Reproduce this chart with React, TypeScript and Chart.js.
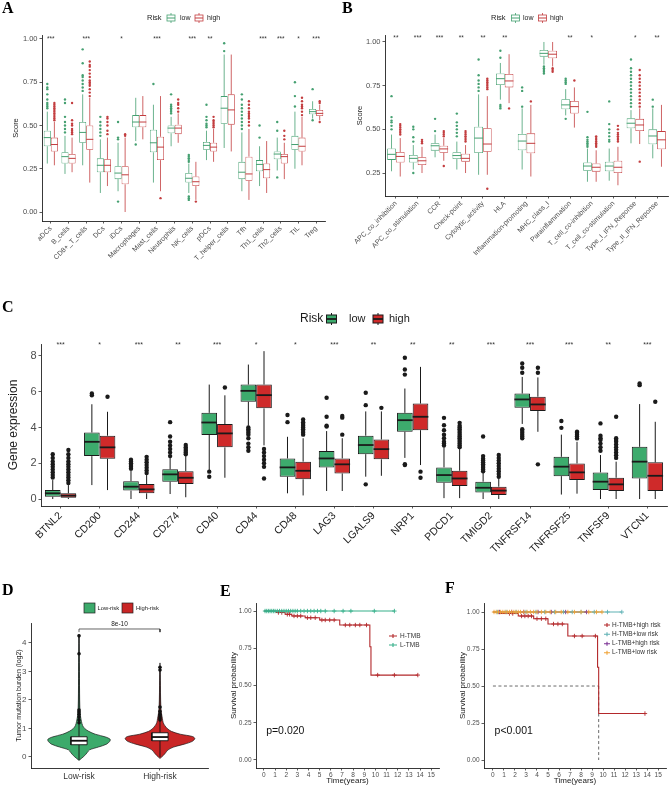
import React, { useEffect, useRef } from 'react';
import { Chart, registerables } from 'chart.js';

Chart.register(...registerables);
const FONT = "'Liberation Sans', Arial, Helvetica, sans-serif";
Chart.defaults.font.family = FONT;
Chart.defaults.color = '#4d4d4d';

// ---------------- Panel A data ----------------
const A_categories = ['aDCs', 'B_cells', 'CD8+_T_cells', 'DCs', 'iDCs', 'Macrophages', 'Mast_cells', 'Neutrophils', 'NK_cells', 'pDCs', 'T_helper_cells', 'Tfh', 'Th1_cells', 'Th2_cells', 'TIL', 'Treg'];
const A_stars = ['***', '', '***', '', '*', '', '***', '', '***', '**', '', '', '***', '***', '*', '***'];
// [whiskerMin, q1, median, q3, whiskerMax]
const A_lowStats = [
  [0.28, 0.38, 0.43, 0.47, 0.58], [0.22, 0.28, 0.32, 0.345, 0.44], [0.27, 0.40, 0.46, 0.52, 0.68], [0.11, 0.23, 0.27, 0.31, 0.42],
  [0.12, 0.19, 0.225, 0.265, 0.40], [0.41, 0.49, 0.52, 0.56, 0.66], [0.17, 0.345, 0.40, 0.475, 0.62], [0.38, 0.455, 0.485, 0.50, 0.55],
  [0.11, 0.17, 0.195, 0.225, 0.28], [0.30, 0.36, 0.385, 0.405, 0.47], [0.37, 0.51, 0.60, 0.67, 0.91], [0.12, 0.19, 0.23, 0.29, 0.46],
  [0.15, 0.235, 0.275, 0.30, 0.38], [0.24, 0.305, 0.335, 0.35, 0.43], [0.25, 0.36, 0.39, 0.44, 0.58], [0.54, 0.565, 0.58, 0.595, 0.64],
];
const A_highStats = [
  [0.27, 0.35, 0.39, 0.43, 0.52], [0.23, 0.28, 0.31, 0.335, 0.43], [0.17, 0.36, 0.42, 0.50, 0.66], [0.15, 0.23, 0.27, 0.305, 0.43],
  [0.0, 0.16, 0.215, 0.265, 0.43], [0.42, 0.49, 0.52, 0.56, 0.67], [0.12, 0.30, 0.375, 0.435, 0.67], [0.40, 0.45, 0.485, 0.505, 0.57],
  [0.07, 0.15, 0.175, 0.205, 0.29], [0.29, 0.35, 0.375, 0.40, 0.48], [0.35, 0.505, 0.59, 0.68, 0.91], [0.07, 0.18, 0.22, 0.32, 0.48],
  [0.11, 0.195, 0.245, 0.28, 0.41], [0.19, 0.28, 0.32, 0.335, 0.40], [0.27, 0.35, 0.38, 0.43, 0.55], [0.53, 0.555, 0.57, 0.59, 0.62],
];
const A_lowOutliers = [
  [0.60, 0.61, 0.62, 0.63, 0.65, 0.68, 0.71, 0.72, 0.74], [0.46, 0.48, 0.50, 0.52, 0.55, 0.63, 0.65], [0.70, 0.72, 0.74, 0.76, 0.78, 0.79, 0.86, 0.94],
  [0.44, 0.46, 0.48, 0.50, 0.52, 0.55], [0.42, 0.43, 0.52, 0.06], [0.39], [0.74], [0.57, 0.58, 0.59, 0.60, 0.61, 0.62, 0.68],
  [0.29, 0.30, 0.31, 0.32, 0.33, 0.07, 0.08, 0.09], [0.49, 0.50, 0.51, 0.53, 0.55, 0.62], [0.93, 0.975],
  [0.48, 0.50, 0.52, 0.54, 0.56, 0.58, 0.60, 0.62, 0.65, 0.68], [0.43, 0.50], [0.47, 0.52, 0.20], [0.61, 0.67, 0.75], [0.71, 0.53],
];
const A_highOutliers = [
  [0.53, 0.54, 0.55, 0.56, 0.57, 0.58, 0.59, 0.60, 0.61, 0.62, 0.63], [0.45, 0.46, 0.47, 0.48, 0.50, 0.51, 0.53, 0.63],
  [0.67, 0.69, 0.71, 0.73, 0.74, 0.75, 0.76, 0.78, 0.80, 0.82, 0.84, 0.85, 0.87], [0.45, 0.47, 0.50, 0.52, 0.54, 0.55], [0.44, 0.45], [],
  [0.08], [0.58, 0.60, 0.62, 0.63, 0.65], [0.06], [0.49, 0.50, 0.51, 0.52, 0.53, 0.55], [], [0.50, 0.52, 0.54, 0.55, 0.56, 0.57, 0.58, 0.60, 0.62, 0.64],
  [], [0.42, 0.44, 0.47], [0.56, 0.58, 0.60, 0.61, 0.62, 0.64, 0.66], [0.63, 0.64, 0.52],
];
const A_yTicks = [0, 0.25, 0.5, 0.75, 1.0];

// ---------------- Panel B data ----------------
const B_categories = ['APC_co_inhibition', 'APC_co_stimulation', 'CCR', 'Check-point', 'Cytolytic_activity', 'HLA', 'Inflammation-promoting', 'MHC_class_I', 'Parainflammation', 'T_cell_co-inhibition', 'T_cell_co-stimulation', 'Type_I_IFN_Reponse', 'Type_II_IFN_Reponse'];
const B_stars = ['**', '***', '***', '**', '**', '**', '', '', '**', '*', '', '*', '**'];
const B_lowStats = [
  [0.26, 0.325, 0.357, 0.39, 0.47], [0.27, 0.31, 0.334, 0.353, 0.41], [0.34, 0.378, 0.406, 0.42, 0.47], [0.27, 0.33, 0.35, 0.369, 0.43],
  [0.24, 0.365, 0.45, 0.515, 0.70], [0.67, 0.754, 0.79, 0.82, 0.88], [0.27, 0.38, 0.433, 0.474, 0.62], [0.87, 0.916, 0.935, 0.954, 1.0],
  [0.58, 0.615, 0.64, 0.672, 0.73], [0.20, 0.263, 0.29, 0.31, 0.39], [0.206, 0.26, 0.29, 0.315, 0.39], [0.42, 0.506, 0.535, 0.563, 0.61],
  [0.334, 0.414, 0.462, 0.50, 0.62],
];
const B_highStats = [
  [0.23, 0.31, 0.345, 0.37, 0.45], [0.25, 0.296, 0.32, 0.34, 0.40], [0.32, 0.366, 0.388, 0.406, 0.45], [0.25, 0.315, 0.334, 0.36, 0.41],
  [0.24, 0.372, 0.416, 0.506, 0.69], [0.65, 0.74, 0.777, 0.817, 0.93], [0.23, 0.363, 0.42, 0.477, 0.64], [0.86, 0.907, 0.93, 0.95, 1.0],
  [0.51, 0.59, 0.63, 0.662, 0.74], [0.20, 0.258, 0.283, 0.305, 0.38], [0.18, 0.25, 0.283, 0.32, 0.40], [0.416, 0.49, 0.525, 0.56, 0.62],
  [0.286, 0.386, 0.44, 0.49, 0.64],
];
const B_lowOutliers = [
  [0.50, 0.52, 0.54, 0.55, 0.57, 0.69], [0.43, 0.455, 0.50, 0.515, 0.25], [0.49, 0.56], [0.46, 0.48, 0.50, 0.52, 0.54, 0.59],
  [0.72, 0.74, 0.76, 0.78, 0.81, 0.90], [0.91, 0.95, 0.62, 0.63, 0.64], [0.63, 0.72, 0.74], [0.82, 0.83, 0.84, 0.85, 0.86],
  [0.76, 0.77, 0.78, 0.79, 0.56], [0.40, 0.41, 0.42, 0.43, 0.44, 0.455, 0.60], [0.43, 0.44, 0.46, 0.48, 0.50, 0.53, 0.66],
  [0.63, 0.65, 0.67, 0.69, 0.71, 0.73, 0.75, 0.77, 0.79, 0.81, 0.83, 0.85, 0.90], [0.63, 0.67],
];
const B_highOutliers = [
  [0.47, 0.48, 0.49, 0.50, 0.51, 0.52, 0.53], [0.42, 0.43, 0.44], [0.46, 0.47, 0.48, 0.49, 0.29], [0.43, 0.44, 0.45, 0.46, 0.47, 0.48, 0.49],
  [0.73, 0.74, 0.75, 0.76, 0.77, 0.78, 0.79, 0.16], [0.62], [0.66], [0.83, 0.84, 0.85], [0.78],
  [0.40, 0.41, 0.42, 0.43, 0.44, 0.45, 0.46], [0.43, 0.44, 0.45, 0.46, 0.47, 0.48, 0.50, 0.52],
  [0.63, 0.65, 0.67, 0.69, 0.71, 0.73, 0.75, 0.77, 0.79, 0.81, 0.84, 0.315], [],
];
const B_yTicks = [0.25, 0.5, 0.75, 1.0];

// ---------------- Panel C data ----------------
const C_categories = ['BTNL2', 'CD200', 'CD244', 'CD274', 'CD40', 'CD44', 'CD48', 'LAG3', 'LGALS9', 'NRP1', 'PDCD1', 'TMIGD2', 'TNFRSF14', 'TNFRSF25', 'TNFSF9', 'VTCN1'];
const C_stars = ['***', '*', '***', '**', '***', '*', '*', '***', '**', '**', '**', '***', '***', '***', '**', '***'];
const C_lowStats = [
  [0, 0.13, 0.32, 0.50, 1.06], [0.78, 2.40, 3.2, 3.72, 5.3], [0, 0.47, 0.69, 1.0, 1.62], [0.28, 0.97, 1.38, 1.66, 2.3],
  [1.62, 3.58, 4.28, 4.82, 6.4], [4.1, 5.44, 6.05, 6.4, 7.52], [0.32, 1.25, 1.77, 2.27, 3.48], [0.45, 1.77, 2.27, 2.68, 3.8],
  [1.25, 2.51, 3.02, 3.54, 4.9], [2.3, 3.76, 4.41, 4.82, 6.18], [0.05, 0.91, 1.34, 1.77, 2.92], [0, 0.37, 0.63, 0.97, 1.47],
  [4.2, 5.10, 5.57, 5.9, 6.83], [0.25, 1.28, 1.81, 2.36, 3.6], [0, 0.50, 0.97, 1.49, 2.46], [0, 1.15, 2.09, 2.92, 5.31],
];
const C_highStats = [
  [0, 0.07, 0.19, 0.32, 0.78], [0.5, 2.25, 2.89, 3.54, 4.88], [0, 0.32, 0.54, 0.84, 1.34], [0.1, 0.84, 1.19, 1.56, 2.4],
  [1.19, 2.89, 3.67, 4.19, 5.8], [3.0, 5.07, 5.81, 6.4, 8.27], [0.2, 1.1, 1.58, 2.09, 3.4], [0.45, 1.43, 1.94, 2.27, 3.4],
  [1.3, 2.22, 2.79, 3.33, 4.9], [1.9, 3.85, 4.6, 5.34, 7.39], [0.05, 0.73, 1.15, 1.58, 2.83], [0, 0.22, 0.47, 0.69, 1.15],
  [3.76, 4.92, 5.29, 5.72, 6.8], [0.3, 1.06, 1.49, 1.99, 3.2], [0, 0.45, 0.82, 1.19, 2.09], [0, 0.45, 1.30, 2.05, 4.32],
];
const C_lowOutliers = [
  [1.2, 1.35, 1.5, 1.65, 1.8, 1.95, 2.1, 2.3, 2.5], [5.8, 5.9], [1.7, 1.8, 1.9, 2.0, 2.1, 2.2], [2.4, 2.6, 2.8, 3.0, 3.2, 3.5, 4.3],
  [1.53, 1.25], [4.0, 3.9, 3.8, 3.7, 3.6, 3.4, 3.1, 2.9, 2.7], [4.3, 4.7], [4.05, 4.1, 4.6, 5.66],
  [5.25, 5.94, 0.82], [6.96, 7.24, 7.9, 1.95, 1.9], [3.0, 3.1, 3.2, 3.4, 3.6, 3.85, 4.13, 4.54],
  [1.55, 1.65, 1.75, 1.85, 1.95, 2.05, 2.15, 2.25, 2.4, 3.5], [7.06, 7.34, 7.58, 3.9, 3.8, 3.7, 3.6, 3.5, 3.4], [3.98, 4.36],
  [2.7, 2.9, 3.1, 3.3, 3.4, 3.54, 4.23], [6.37, 6.46],
];
const C_highOutliers = [
  [0.9, 1.05, 1.2, 1.35, 1.5, 1.65, 1.8, 1.95, 2.1, 2.3, 2.5, 2.74], [5.72], [1.45, 1.6, 1.75, 1.9, 2.05, 2.2, 2.36], [2.5, 2.6, 2.7, 2.8, 2.9, 3.02],
  [6.24], [2.8, 2.6, 2.4, 2.2, 2.0, 1.8, 1.15], [3.6, 3.7, 3.8, 3.9, 4.0, 4.1, 4.2, 4.3, 4.45], [3.6, 4.55, 4.65],
  [5.1], [1.53, 1.19], [2.9, 3.0, 3.1, 3.2, 3.3, 3.4, 3.5, 3.6, 3.7, 3.8, 3.9, 4.0, 4.1, 4.26],
  [1.25, 1.4, 1.55, 1.7, 1.85, 2.0, 2.15, 2.3, 2.46], [7.06, 7.34, 1.94], [3.39, 3.5, 3.6, 3.7, 3.76],
  [2.3, 2.45, 2.6, 2.75, 2.9, 3.05, 3.2, 3.3, 3.4, 4.6], [5.44],
];
const C_yTicks = [0, 2, 4, 6, 8];
const RISK_LABELS = ['low', 'high'];

// ---------------- Panel D data ----------------
const D_groups = ['Low-risk', 'High-risk'];
const D_lowDensY = [-0.12, -0.05, 0.05, 0.15, 0.25, 0.35, 0.45, 0.55, 0.62, 0.7, 0.8, 0.9, 1.0, 1.1, 1.25, 1.5, 2.0, 3.0, 4.3];
const D_lowDensW = [0, 0.03, 0.07, 0.1, 0.13, 0.24, 0.34, 0.38, 0.385, 0.33, 0.2, 0.12, 0.07, 0.045, 0.03, 0.015, 0.008, 0.005, 0];
const D_highDensY = [-0.05, 0.05, 0.15, 0.25, 0.35, 0.45, 0.55, 0.65, 0.72, 0.8, 0.9, 1.0, 1.1, 1.2, 1.35, 1.6, 2.0, 2.5, 3.3];
const D_highDensW = [0, 0.04, 0.07, 0.1, 0.17, 0.3, 0.4, 0.43, 0.4, 0.25, 0.14, 0.09, 0.06, 0.04, 0.03, 0.015, 0.008, 0.005, 0];
const D_lowStats = [-0.1, 0.43, 0.57, 0.71, 4.25];
const D_highStats = [0.0, 0.57, 0.70, 0.85, 3.15];
const D_lowOutliers = [1.2, 1.3, 1.4, 1.5, 1.58, 1.65, 3.62, 4.25];
const D_highOutliers = [1.3, 1.35, 1.4, 1.45, 1.5, 1.6, 1.75, 3.05, 3.15];
const D_pLabel = '8e-10';
const D_bracketY = 4.49;
const D_bracketFoot = 4.38;
const D_yTicks = [0, 1, 2, 3, 4];

// ---------------- Panel E data ----------------
const E_highTime = [0, 1.1, 1.9, 2.5, 3.7, 5.0, 6.8, 9.5, 9.6, 13.8];
const E_highSurv = [1, 0.99, 0.978, 0.967, 0.955, 0.94, 0.906, 0.76, 0.57, 0.57];
const E_highCensor = [1.3, 1.6, 2.1, 2.3, 2.7, 3.0, 3.3, 3.9, 4.2, 4.6, 5.2, 5.5, 5.9, 6.3, 7.3, 7.7, 8.2, 8.6, 9.2, 10.2, 11.7, 13.8];
const E_lowTime = [0, 11.7];
const E_lowSurv = [1, 1];
const E_lowCensor = [0.1, 0.25, 0.4, 0.55, 0.7, 0.85, 1.0, 1.2, 1.4, 1.6, 1.8, 2.0, 2.2, 2.4, 2.6, 2.8, 3.0, 3.3, 3.6, 3.9, 4.2, 4.5, 4.8, 5.1, 5.5, 6.3, 7.1, 7.8, 9.9, 11.7];
const E_labels = ['H-TMB', 'L-TMB'];
const E_pText = 'p=0.020';
const KM_xTicks = [0, 1, 2, 3, 4, 5, 6, 7, 8, 9, 10, 11, 12, 13, 14, 15];
const KM_yTicks = [0, 0.25, 0.5, 0.75, 1.0];

// ---------------- Panel F data ----------------
const F_hhTime = [0, 0.5, 2.3, 3.7, 5.0, 6.8, 9.5, 9.6, 13.8];
const F_hhSurv = [1, 0.99, 0.973, 0.955, 0.919, 0.838, 0.627, 0.314, 0.314];
const F_hhCensor = [1.5, 1.8, 2.6, 2.9, 3.2, 3.5, 4.0, 4.4, 4.8, 5.5, 5.9, 6.3, 7.4, 8.1, 9.3, 13.8];
const F_hlTime = [0, 11.7];
const F_hlSurv = [1, 1];
const F_hlCensor = [0.4, 1.2, 2.1, 3.0, 3.9, 4.7, 5.6, 6.4, 7.2, 8.0, 9.2, 10.4, 11.7];
const F_lhTime = [0, 8.5];
const F_lhSurv = [1, 1];
const F_lhCensor = [0.6, 1.7, 2.8, 4.1, 5.3, 6.6, 8.5];
const F_llTime = [0, 9.9];
const F_llSurv = [1, 1];
const F_llCensor = [0.1, 0.3, 0.5, 0.7, 0.9, 1.1, 1.3, 1.5, 1.7, 1.9, 2.1, 2.3, 2.5, 2.8, 3.1, 3.4, 3.7, 4.0, 4.4, 4.8, 5.2, 5.7, 6.2, 6.8, 7.4, 8.0, 8.7, 9.4, 9.9];
const F_labels = ['H-TMB+high risk', 'H-TMB+low risk', 'L-TMB+high risk', 'L-TMB+low risk'];
const F_median = 9.6;
const F_pText = 'p<0.001';

// ---------------- helpers ----------------
const fitSize = (size: number) => (scale: any) => {
  if (scale.isHorizontal()) scale.height = size;
  else scale.width = size;
};
const fixTicks = (vals: number[]) => (scale: any) => {
  scale.ticks = vals.map((v) => ({ value: v }));
};
const survAt = (times: number[], surv: number[], t: number) => {
  let s = surv[0];
  for (let k = 0; k < times.length; k++) if (times[k] <= t) s = surv[k];
  return s;
};

function yLinear(o: any) {
  return {
    type: 'linear', position: 'left', min: o.min, max: o.max,
    afterBuildTicks: fixTicks(o.ticks), afterFit: fitSize(o.width),
    ticks: { font: { size: o.font }, color: '#4d4d4d', padding: 2, callback: (v: any) => Number(v).toFixed(o.dec) },
    grid: { drawOnChartArea: false, drawTicks: true, tickLength: 2.5, color: '#333', lineWidth: 0.8 },
    border: { display: true, color: '#222', width: 0.9 },
    title: o.title ? { display: true, text: o.title, font: { size: o.titleFont }, color: '#1a1a1a', padding: { top: o.titlePad, bottom: 0 } } : { display: false },
  };
}

function xCategory(o: any) {
  return {
    type: 'category', afterFit: fitSize(o.height),
    ticks: { font: { size: o.font }, color: o.color, maxRotation: 45, minRotation: 45, autoSkip: false, padding: 1 },
    grid: { offset: false, drawOnChartArea: false, tickLength: 2.5, color: '#333', lineWidth: 0.8 },
    border: { display: true, color: '#222', width: 0.9 },
  };
}

function xLinear(o: any) {
  return {
    type: 'linear', min: o.min, max: o.max,
    afterBuildTicks: fixTicks(o.ticks), afterFit: fitSize(o.height),
    ticks: { font: { size: o.font }, color: o.color || '#4d4d4d', padding: 1, maxRotation: 0, autoSkip: false, callback: o.callback || ((v: any) => String(v)) },
    grid: { drawOnChartArea: false, drawTicks: true, tickLength: 2.5, color: '#333', lineWidth: 0.8 },
    border: { display: true, color: '#222', width: 0.9 },
    title: o.title ? { display: true, text: o.title, font: { size: o.titleFont }, color: '#1a1a1a', padding: { top: 0, bottom: o.titlePad } } : { display: false },
  };
}

function drawBoxKey(ctx: any, cx: number, cy: number, w: number, h: number, fill: string, stroke: string, lw: number, medW: number) {
  ctx.save();
  ctx.strokeStyle = stroke;
  ctx.lineWidth = lw;
  ctx.beginPath();
  ctx.moveTo(cx, cy - h / 2 - 2);
  ctx.lineTo(cx, cy + h / 2 + 2);
  ctx.stroke();
  ctx.fillStyle = fill;
  ctx.fillRect(cx - w / 2, cy - h / 2, w, h);
  ctx.strokeRect(cx - w / 2, cy - h / 2, w, h);
  ctx.lineWidth = medW;
  ctx.beginPath();
  ctx.moveTo(cx - w / 2, cy);
  ctx.lineTo(cx + w / 2, cy);
  ctx.stroke();
  ctx.restore();
}

function boxPlugin(p: any) {
  return {
    id: 'boxExtras',
    afterDatasetsDraw(chart: any) {
      const ctx = chart.ctx;
      const ys = chart.scales.y;
      const xs = chart.scales.x;
      chart.data.datasets.forEach((d: any, i: number) => {
        const meta = chart.getDatasetMeta(i);
        meta.data.forEach((el: any, j: number) => {
          const s = d.stats[j];
          const x = el.x;
          const w = el.width;
          ctx.save();
          ctx.strokeStyle = d.lineColor;
          ctx.lineWidth = p.lineW;
          ctx.beginPath();
          ctx.moveTo(x, ys.getPixelForValue(s[3]));
          ctx.lineTo(x, ys.getPixelForValue(s[4]));
          ctx.moveTo(x, ys.getPixelForValue(s[1]));
          ctx.lineTo(x, ys.getPixelForValue(s[0]));
          ctx.stroke();
          const my = ys.getPixelForValue(s[2]);
          ctx.lineWidth = p.medW;
          ctx.beginPath();
          ctx.moveTo(x - w / 2, my);
          ctx.lineTo(x + w / 2, my);
          ctx.stroke();
          ctx.fillStyle = d.lineColor;
          (d.outliers[j] || []).forEach((v: number) => {
            ctx.beginPath();
            ctx.arc(x, ys.getPixelForValue(v), p.outR, 0, Math.PI * 2);
            ctx.fill();
          });
          ctx.restore();
        });
      });
      ctx.save();
      ctx.fillStyle = '#333';
      ctx.font = `${p.starFont}px ${FONT}`;
      ctx.textAlign = 'center';
      ctx.textBaseline = 'middle';
      p.stars.forEach((s: string, j: number) => {
        if (s) ctx.fillText(s, xs.getPixelForValue(j), ys.getPixelForValue(p.starValue));
      });
      const L = p.legend;
      ctx.textAlign = 'left';
      ctx.fillStyle = '#1a1a1a';
      ctx.font = `${L.titleFont}px ${FONT}`;
      ctx.fillText('Risk', L.riskX, L.y);
      const cols = [p.lowColor, p.highColor];
      [L.key1X, L.key2X].forEach((kx: number, k: number) => {
        drawBoxKey(ctx, kx, L.y, L.keyW, L.keyH, p.filled ? cols[k] : '#ffffff', p.filled ? '#1a1a1a' : cols[k], p.lineW, p.medW);
      });
      ctx.fillStyle = '#1a1a1a';
      ctx.font = `${L.font}px ${FONT}`;
      ctx.fillText(RISK_LABELS[0], L.lowX, L.y);
      ctx.fillText(RISK_LABELS[1], L.highX, L.y);
      ctx.restore();
    },
  };
}

function boxConfig(p: any) {
  const ds = (stats: number[][], outs: number[][], color: string, label: string) => ({
    label,
    data: stats.map((s) => [s[1], s[3]]),
    stats, outliers: outs,
    lineColor: p.filled ? '#1a1a1a' : color,
    backgroundColor: p.filled ? color : '#ffffff',
    borderColor: p.filled ? '#1a1a1a' : color,
    borderWidth: p.lineW,
    borderSkipped: false,
    categoryPercentage: 0.8,
    barPercentage: 1,
  });
  return {
    type: 'bar',
    data: { labels: p.categories, datasets: [ds(p.lowStats, p.lowOut, p.lowColor, RISK_LABELS[0]), ds(p.highStats, p.highOut, p.highColor, RISK_LABELS[1])] },
    options: {
      responsive: false, animation: false, events: [],
      layout: { padding: { left: 0, top: p.padTop, right: p.padRight, bottom: 0 } },
      plugins: { legend: { display: false }, tooltip: { enabled: false } },
      scales: {
        x: xCategory({ height: p.xHeight, font: p.xFont, color: p.xColor }),
        y: yLinear({ min: p.yMin, max: p.yMax, ticks: p.yTicks, dec: p.dec, width: p.yWidth, font: p.tickFont, title: p.yTitle, titleFont: p.titleFont, titlePad: p.titlePad }),
      },
    },
    plugins: [boxPlugin(p)],
  };
}

const A_GREEN = '#45a071';
const A_RED = '#c33d3f';

const configA = () => boxConfig({
  categories: A_categories, lowStats: A_lowStats, highStats: A_highStats, lowOut: A_lowOutliers, highOut: A_highOutliers, stars: A_stars,
  lowColor: A_GREEN, highColor: A_RED, filled: false,
  padTop: 35, padRight: 10, yWidth: 42, xHeight: 49,
  yMin: -0.052, yMax: 1.023, yTicks: A_yTicks, dec: 2, tickFont: 7.5, xFont: 7, xColor: '#4d4d4d',
  yTitle: 'Score', titleFont: 7.5, titlePad: 11.5,
  starValue: 1.0, starFont: 6.5, lineW: 0.8, medW: 1, outR: 1.2,
  legend: { y: 18, riskX: 147, key1X: 171, lowX: 180, key2X: 199, highX: 207, font: 7, titleFont: 7.5, keyW: 8, keyH: 6 },
});

const configB = () => boxConfig({
  categories: B_categories, lowStats: B_lowStats, highStats: B_highStats, lowOut: B_lowOutliers, highOut: B_highOutliers, stars: B_stars,
  lowColor: A_GREEN, highColor: A_RED, filled: false,
  padTop: 35, padRight: 3, yWidth: 50, xHeight: 74,
  yMin: 0.1185, yMax: 1.04, yTicks: B_yTicks, dec: 2, tickFont: 7.5, xFont: 7, xColor: '#4d4d4d',
  yTitle: 'Score', titleFont: 7.5, titlePad: 20.5,
  starValue: 1.02, starFont: 6.5, lineW: 0.8, medW: 1, outR: 1.2,
  legend: { y: 18, riskX: 156, key1X: 180.5, lowX: 188, key2X: 207.5, highX: 215, font: 7, titleFont: 7.5, keyW: 8, keyH: 6 },
});

const configC = () => boxConfig({
  categories: C_categories, lowStats: C_lowStats, highStats: C_highStats, lowOut: C_lowOutliers, highOut: C_highOutliers, stars: C_stars,
  lowColor: '#3dab6d', highColor: '#cf2a2a', filled: true,
  padTop: 74, padRight: 4, yWidth: 41, xHeight: 54,
  yMin: -0.39, yMax: 8.67, yTicks: C_yTicks, dec: 0, tickFont: 11, xFont: 10.5, xColor: '#1a1a1a',
  yTitle: 'Gene expression', titleFont: 12, titlePad: 6.8,
  starValue: 8.6, starFont: 7, lineW: 1, medW: 1.8, outR: 2.2,
  legend: { y: 49, riskX: 300, key1X: 331.5, lowX: 349, key2X: 378, highX: 389, font: 11, titleFont: 12, keyW: 10, keyH: 8 },
});

// ---------------- Panel D ----------------
const D_GREEN = '#3caa6b';
const D_RED = '#c92626';
function configD() {
  const half = 0.1;
  const violin = (c: number, ys: number[], ws: number[]) => {
    const right = ys.map((y, k) => ({ x: c + ws[k], y }));
    const left = ys.map((y, k) => ({ x: c - ws[k], y })).reverse();
    return [...right, ...left];
  };
  const rect = (c: number, s: number[]) => [
    { x: c - half, y: s[1] }, { x: c + half, y: s[1] }, { x: c + half, y: s[3] }, { x: c - half, y: s[3] }, { x: c - half, y: s[1] },
  ];
  const line = (data: any[], color: string, w: number, extra: any = {}) => ({ data, borderColor: color, borderWidth: w, pointRadius: 0, fill: false, tension: 0, ...extra });
  const pts = (c: number, vals: number[]) => ({ data: vals.map((v) => ({ x: c, y: v })), showLine: false, pointRadius: 1.8, pointBackgroundColor: '#111', pointBorderWidth: 0 });
  return {
    type: 'line',
    data: {
      datasets: [
        pts(1, D_lowOutliers),
        pts(2, D_highOutliers),
        line([{ x: 1 - half, y: D_lowStats[2] }, { x: 1 + half, y: D_lowStats[2] }], '#111', 1.8),
        line([{ x: 2 - half, y: D_highStats[2] }, { x: 2 + half, y: D_highStats[2] }], '#111', 1.8),
        line(rect(1, D_lowStats), '#111', 0.9, { fill: 'shape', backgroundColor: '#ffffff' }),
        line(rect(2, D_highStats), '#111', 0.9, { fill: 'shape', backgroundColor: '#ffffff' }),
        line([{ x: 1, y: D_lowStats[0] }, { x: 1, y: D_lowStats[4] }], '#111', 0.9),
        line([{ x: 2, y: D_highStats[0] }, { x: 2, y: D_highStats[4] }], '#111', 0.9),
        line([{ x: 1, y: D_bracketFoot }, { x: 1, y: D_bracketY }, { x: 2, y: D_bracketY }, { x: 2, y: D_bracketFoot }], '#222', 0.7),
        line(violin(1, D_lowDensY, D_lowDensW), '#1a1a1a', 0.7, { fill: 'shape', backgroundColor: D_GREEN, tension: 0.3 }),
        line(violin(2, D_highDensY, D_highDensW), '#1a1a1a', 0.7, { fill: 'shape', backgroundColor: D_RED, tension: 0.3 }),
      ],
    },
    options: {
      responsive: false, animation: false, events: [],
      layout: { padding: { left: 0, top: 73, right: 14, bottom: 0 } },
      plugins: { legend: { display: false }, tooltip: { enabled: false } },
      scales: {
        x: xLinear({ min: 0.407, max: 2.593, ticks: [1, 2], height: 18, font: 8.5, color: '#333', callback: (v: any) => D_groups[Math.round(v) - 1] }),
        y: yLinear({ min: -0.386, max: 4.7, ticks: D_yTicks, dec: 0, width: 31, font: 8, title: 'Tumor mutation burden (log2)', titleFont: 7, titlePad: 14.8 }),
      },
    },
    plugins: [{
      id: 'dExtras',
      afterDatasetsDraw(chart: any) {
        const ctx = chart.ctx;
        const xs = chart.scales.x, ys = chart.scales.y;
        ctx.save();
        ctx.fillStyle = '#222';
        ctx.font = `6.5px ${FONT}`;
        ctx.textAlign = 'center';
        ctx.textBaseline = 'bottom';
        ctx.fillText(D_pLabel, xs.getPixelForValue(1.5), ys.getPixelForValue(D_bracketY) - 1.5);
        // legend
        const cols = [D_GREEN, D_RED];
        const keyX = [84, 122];
        const txtX = [97.5, 136];
        ctx.textAlign = 'left';
        ctx.textBaseline = 'middle';
        ctx.font = `5.8px ${FONT}`;
        cols.forEach((c, k) => {
          ctx.fillStyle = c;
          ctx.fillRect(keyX[k], 53, 11, 10);
          ctx.strokeStyle = '#222';
          ctx.lineWidth = 0.7;
          ctx.strokeRect(keyX[k], 53, 11, 10);
          ctx.fillStyle = '#222';
          ctx.fillText(D_groups[k], txtX[k], 58.5);
        });
        ctx.restore();
      },
    }],
  };
}

// ---------------- KM panels ----------------
function kmConfig(o: any) {
  const curveDs: any[] = [];
  const censorDs: any[] = [];
  o.curves.forEach((c: any) => {
    curveDs.push({
      data: c.times.map((t: number, k: number) => ({ x: t, y: c.surv[k] })),
      borderColor: c.color, borderWidth: 1.1, stepped: true, pointRadius: 0, fill: false,
    });
    censorDs.push({
      data: c.censor.map((t: number) => ({ x: t, y: survAt(c.times, c.surv, t) })),
      showLine: false, pointStyle: 'cross', pointRadius: 2.2, borderColor: c.color, borderWidth: 0.9, pointBackgroundColor: c.color,
    });
  });
  const extra = (o.medianLine !== undefined)
    ? [
      { data: [{ x: 0, y: 0.5 }, { x: o.medianLine, y: 0.5 }], borderColor: '#444', borderWidth: 0.8, borderDash: [3, 2.5], pointRadius: 0, fill: false },
      { data: [{ x: o.medianLine, y: 0.5 }, { x: o.medianLine, y: 0 }], borderColor: '#444', borderWidth: 0.8, borderDash: [3, 2.5], pointRadius: 0, fill: false },
    ]
    : [];
  return {
    type: 'line',
    data: { datasets: [...censorDs, ...curveDs, ...extra] },
    options: {
      responsive: false, animation: false, events: [],
      layout: { padding: { left: 0, top: o.padTop, right: o.padRight, bottom: 0 } },
      plugins: { legend: { display: false }, tooltip: { enabled: false } },
      scales: {
        x: xLinear({ min: o.xMin, max: o.xMax, ticks: KM_xTicks, height: 18, font: 6.5, title: 'Time(years)', titleFont: 8, titlePad: 0.5 }),
        y: yLinear({ min: -0.054, max: o.yMax, ticks: KM_yTicks, dec: 2, width: o.yWidth, font: 6.5, title: 'Survival probability', titleFont: 8, titlePad: o.titlePad }),
      },
    },
    plugins: [{
      id: 'kmExtras',
      afterDatasetsDraw(chart: any) {
        const ctx = chart.ctx;
        const xs = chart.scales.x, ys = chart.scales.y;
        ctx.save();
        ctx.fillStyle = '#111';
        ctx.font = `10.5px ${FONT}`;
        ctx.textAlign = 'left';
        ctx.textBaseline = 'middle';
        ctx.fillText(o.pText, xs.getPixelForValue(o.pX), ys.getPixelForValue(0.195));
        ctx.font = `6.5px ${FONT}`;
        o.legendOrder.forEach((ci: number, k: number) => {
          const c = o.curves[ci];
          const y = o.legY[k];
          ctx.strokeStyle = c.color;
          ctx.lineWidth = 1.1;
          ctx.beginPath();
          ctx.moveTo(o.legX0, y);
          ctx.lineTo(o.legX1, y);
          ctx.moveTo((o.legX0 + o.legX1) / 2, y - 2);
          ctx.lineTo((o.legX0 + o.legX1) / 2, y + 2);
          ctx.stroke();
          ctx.fillStyle = '#333';
          ctx.fillText(c.label, o.legTX, y);
        });
        ctx.restore();
      },
    }],
  };
}

const configE = () => kmConfig({
  curves: [
    { times: E_lowTime, surv: E_lowSurv, censor: E_lowCensor, color: '#36b08a', label: E_labels[1] },
    { times: E_highTime, surv: E_highSurv, censor: E_highCensor, color: '#b3282b', label: E_labels[0] },
  ],
  legendOrder: [1, 0], legY: [86, 95], legX0: 167, legX1: 175, legTX: 178,
  padTop: 53, padRight: 4, xMin: -0.71, xMax: 15.71, yMax: 1.054, yWidth: 34, titlePad: 7.2,
  pText: E_pText, pX: 0.2,
});

const configF = () => kmConfig({
  curves: [
    { times: F_llTime, surv: F_llSurv, censor: F_llCensor, color: '#f0a236', label: F_labels[3] },
    { times: F_hlTime, surv: F_hlSurv, censor: F_hlCensor, color: '#5fb1b4', label: F_labels[1] },
    { times: F_lhTime, surv: F_lhSurv, censor: F_lhCensor, color: '#7b3294', label: F_labels[2] },
    { times: F_hhTime, surv: F_hhSurv, censor: F_hhCensor, color: '#b3282b', label: F_labels[0] },
  ],
  legendOrder: [3, 1, 2, 0], legY: [75, 84.3, 93.7, 102.7], legX0: 160, legX1: 166, legTX: 168,
  padTop: 53, padRight: 3, xMin: -0.81, xMax: 15.72, yMax: 1.061, yWidth: 40, titlePad: 14.2,
  pText: F_pText, pX: 0.15, medianLine: F_median,
});

function ChartBox({ left, top, width, height, make }: any) {
  const ref = useRef<HTMLCanvasElement | null>(null);
  useEffect(() => {
    if (!ref.current) return;
    const chart = new Chart(ref.current, make());
    return () => chart.destroy();
  }, []);
  return (
    <div style={{ position: 'absolute', left, top, width, height }}>
      <canvas ref={ref} width={width} height={height} style={{ display: 'block', width, height }} />
    </div>
  );
}

const letterStyle = (left: number, top: number): any => ({
  position: 'absolute', left, top, fontFamily: "'Liberation Serif', 'Times New Roman', serif", fontWeight: 'bold', fontSize: 16, lineHeight: '16px', color: '#000',
});

export default function App() {
  return (
    <div style={{ position: 'absolute', left: 0, top: 0, width: 671, height: 786, background: '#ffffff', overflow: 'hidden' }}>
      <ChartBox left={0} top={0} width={335} height={270} make={configA} />
      <ChartBox left={335} top={0} width={336} height={270} make={configB} />
      <ChartBox left={0} top={270} width={671} height={290} make={configC} />
      <ChartBox left={0} top={550} width={222} height={236} make={configD} />
      <ChartBox left={222} top={550} width={222} height={236} make={configE} />
      <ChartBox left={444} top={550} width={227} height={236} make={configF} />
      <div style={letterStyle(2, 0)}>A</div>
      <div style={letterStyle(342, 0)}>B</div>
      <div style={letterStyle(2, 299)}>C</div>
      <div style={letterStyle(2, 582)}>D</div>
      <div style={letterStyle(220, 583)}>E</div>
      <div style={letterStyle(445, 580)}>F</div>
    </div>
  );
}
